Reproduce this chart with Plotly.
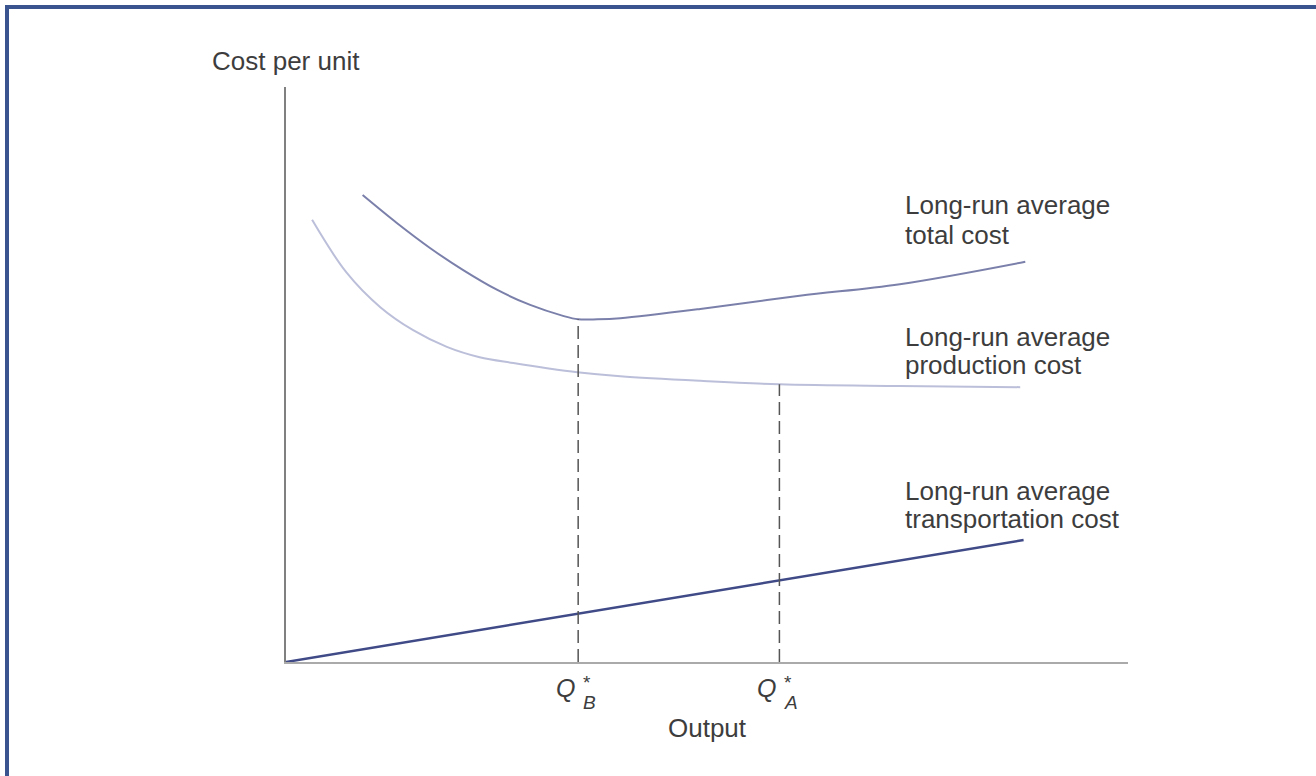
import numpy as np
import plotly.graph_objects as go

# ---- data (arbitrary 0-100 units) ----
prod_x = [3.1, 7.2, 11.2, 15.1, 19.1, 23.0, 27.0, 31.0, 34.6, 39.7, 49.2, 58.6, 72.9, 87.2]
prod_y = [76.9, 67.7, 61.7, 57.7, 54.8, 53.0, 52.0, 51.1, 50.4, 49.7, 48.9, 48.3, 48.0, 47.8]

total_x = [9.1, 13.2, 17.1, 21.0, 25.1, 29.0, 32.9, 34.7, 37.0, 39.7, 49.2, 61.0, 72.9, 87.8]
total_y = [81.2, 76.3, 72.0, 68.2, 64.7, 62.1, 60.2, 59.6, 59.6, 59.8, 61.4, 63.7, 65.7, 69.6]

trans_x = [0.0, 87.6]
trans_y = [0.0, 21.2]

q_b = 34.7
q_a = 58.6

labels_total = ["Long-run average", "total cost"]
labels_prod = ["Long-run average", "production cost"]
labels_trans = ["Long-run average", "transportation cost"]
y_title = "Cost per unit"
x_title = "Output"

# ---- figure ----
FONT = "Liberation Sans, Arial, Helvetica, sans-serif"
TXT = "#3d3d3d"
W, H = 1316, 776
L, R, T, B = 286, 188, 87, 114
PW, PH = W - L - R, H - T - B

fig = go.Figure()

fig.add_trace(go.Scatter(x=trans_x, y=trans_y, mode="lines",
                         line=dict(color="#3f4a87", width=2.5), hoverinfo="skip"))
fig.add_trace(go.Scatter(x=prod_x, y=prod_y, mode="lines",
                         line=dict(color="#bcbfd9", width=2, shape="spline", smoothing=1.0),
                         hoverinfo="skip"))
fig.add_trace(go.Scatter(x=total_x, y=total_y, mode="lines",
                         line=dict(color="#7b80ab", width=2, shape="spline", smoothing=1.0),
                         hoverinfo="skip"))

# dashed drop lines
yb = float(np.interp(q_b, total_x, total_y))
ya = float(np.interp(q_a, prod_x, prod_y))
for qx, qy in [(q_b, yb), (q_a, ya)]:
    fig.add_trace(go.Scatter(x=[qx, qx], y=[0, qy], mode="lines",
                             line=dict(color="#555555", width=1.5, dash="13px,6px"),
                             hoverinfo="skip"))

ann = []
def txt(x, y, s, size=26, xanchor="left", yanchor="middle", xref="x", yref="y",
        xshift=0, yshift=0, italic=False):
    if italic:
        s = "<i>" + s + "</i>"
    ann.append(dict(x=x, y=y, xref=xref, yref=yref, text=s, showarrow=False,
                    xanchor=xanchor, yanchor=yanchor, xshift=xshift, yshift=yshift,
                    font=dict(family=FONT, size=size, color=TXT)))

lx = 73.3
for lines, ys in [(labels_total, (79.4, 74.3)), (labels_prod, (56.5, 51.7)),
                  (labels_trans, (29.7, 24.9))]:
    for s, yy in zip(lines, ys):
        txt(lx, yy, s)

# axis titles (paper coordinates, outside the plot area)
txt(-0.090, 1.045, y_title, xref="paper", yref="paper")
txt(0.500, -0.115, x_title, xanchor="center", xref="paper", yref="paper")

# Q labels
for qx, sub in [(q_b, "B"), (q_a, "A")]:
    px = qx / 100.0
    txt(px, -0.046, "Q", size=25, xanchor="right", xshift=-1, italic=True,
        xref="paper", yref="paper")
    txt(px, -0.036, "*", size=19, xanchor="left", xshift=3, xref="paper", yref="paper")
    txt(px, -0.070, sub, size=19, xanchor="left", xshift=3, italic=True,
        xref="paper", yref="paper")

fig.update_layout(
    width=W, height=H,
    margin=dict(l=L, r=R, t=T, b=B),
    paper_bgcolor="white", plot_bgcolor="white",
    showlegend=False,
    annotations=ann,
    xaxis=dict(range=[0, 100], showgrid=False, zeroline=False, showticklabels=False,
               ticks="", showline=True, linecolor="#aaaaaa", linewidth=2),
    yaxis=dict(range=[0, 100], showgrid=False, zeroline=False, showticklabels=False,
               ticks="", showline=True, linecolor="#808080", linewidth=2),
    shapes=[
        dict(type="line", xref="paper", yref="paper",
             x0=(5 - L) / PW, x1=(W - L) / PW, y0=(H - B - 7) / PH, y1=(H - B - 7) / PH,
             line=dict(color="#3a5490", width=4)),
        dict(type="line", xref="paper", yref="paper",
             x0=(7 - L) / PW, x1=(7 - L) / PW, y0=(H - B - 5) / PH, y1=(-B) / PH,
             line=dict(color="#3a5490", width=4)),
    ],
)

fig.write_html("out.html", config={"displayModeBar": False},
               post_script="document.body.style.margin='0';document.body.style.overflow='hidden';")
